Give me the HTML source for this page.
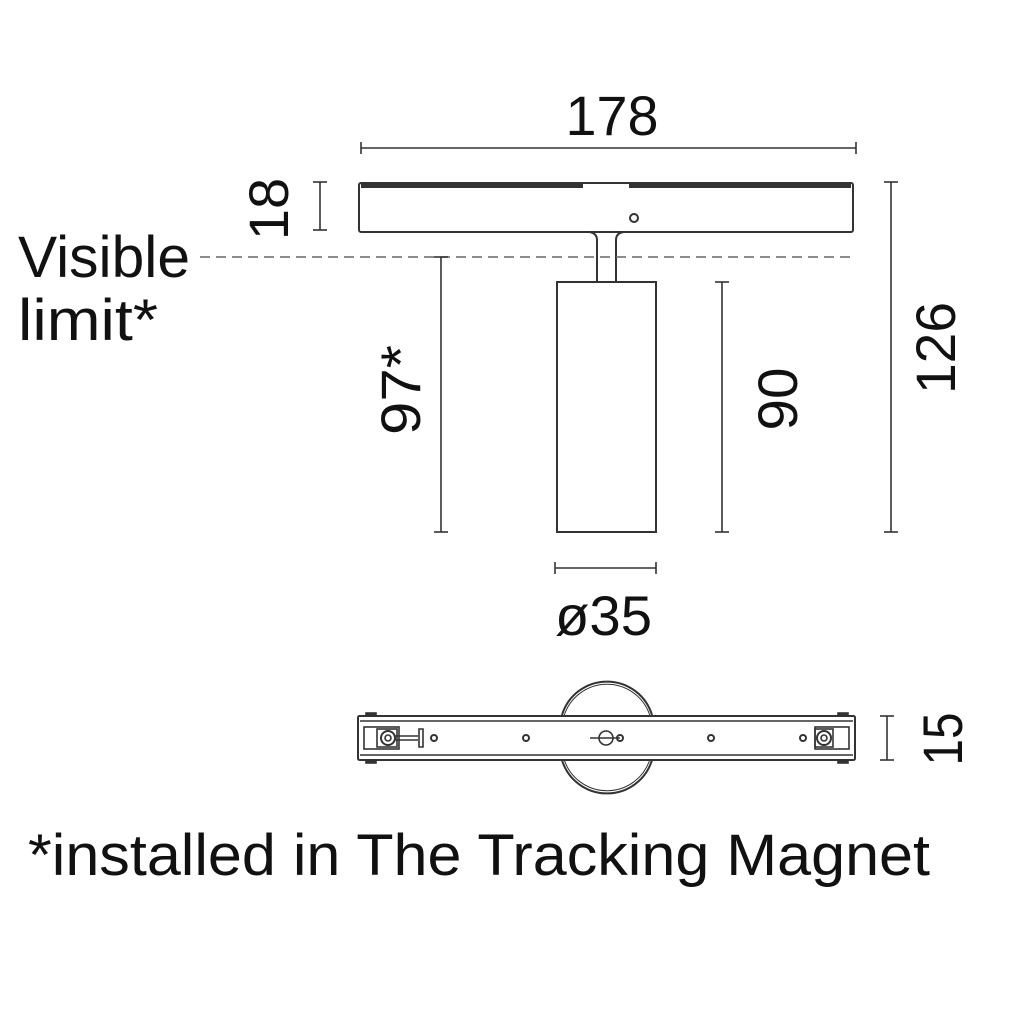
<!DOCTYPE html>
<html><head><style>
html,body{margin:0;padding:0;background:#fff;width:1024px;height:1024px;overflow:hidden}
svg text{font-family:"Liberation Sans",sans-serif;fill:#111}
</style></head><body>
<svg width="1024" height="1024" viewBox="0 0 1024 1024" xmlns="http://www.w3.org/2000/svg">
<g stroke="#333" stroke-width="1.6" fill="none">
<!-- 178 -->
<line x1="361" y1="148" x2="856" y2="148"/><line x1="361" y1="142" x2="361" y2="154"/><line x1="856" y1="142" x2="856" y2="154"/>
<!-- 18 -->
<line x1="320" y1="182" x2="320" y2="230"/><line x1="313" y1="182" x2="327" y2="182"/><line x1="313" y1="230" x2="327" y2="230"/>
<!-- top bar -->
<rect x="359" y="183" width="494" height="49" rx="2" stroke-width="2"/>
<line x1="361" y1="186" x2="583" y2="186" stroke-width="4"/>
<line x1="629" y1="186" x2="851" y2="186" stroke-width="4"/>
<circle cx="634" cy="218" r="4" stroke-width="2"/>
<!-- stem -->
<path d="M589 232 Q597 233 597 240 L597 282 M624 232 Q616 233 616 240 L616 282" stroke-width="2"/>
<!-- dashed -->
<line x1="200" y1="257" x2="856" y2="257" stroke="#666" stroke-dasharray="10,6"/>
<!-- cylinder -->
<rect x="557" y="282" width="99" height="250" stroke-width="2"/>
<!-- 97 -->
<line x1="441" y1="257" x2="441" y2="532"/><line x1="434" y1="257" x2="448" y2="257"/><line x1="434" y1="532" x2="448" y2="532"/>
<!-- 90 -->
<line x1="722" y1="282" x2="722" y2="532"/><line x1="715" y1="282" x2="729" y2="282"/><line x1="715" y1="532" x2="729" y2="532"/>
<!-- 126 -->
<line x1="891" y1="182" x2="891" y2="532"/><line x1="884" y1="182" x2="898" y2="182"/><line x1="884" y1="532" x2="898" y2="532"/>
<!-- 35 -->
<line x1="555" y1="568" x2="656" y2="568"/><line x1="555" y1="562" x2="555" y2="574"/><line x1="656" y1="562" x2="656" y2="574"/>
<!-- 15 -->
<line x1="887" y1="716" x2="887" y2="760"/><line x1="880" y1="716" x2="894" y2="716"/><line x1="880" y1="760" x2="894" y2="760"/>
<!-- bottom view -->
<path d="M562 715 A47 47 0 0 1 652 715 M562 760 A47 47 0 0 0 652 760" stroke-width="2"/>
<path d="M564 716 A45 45 0 0 1 650 716 M564 759 A45 45 0 0 0 650 759" stroke-width="1"/>
<rect x="358" y="716" width="497" height="44" rx="1.5" stroke-width="2"/>
<line x1="360" y1="721" x2="853" y2="721"/><line x1="360" y1="755" x2="853" y2="755"/>
<rect x="366" y="713" width="10" height="3" fill="#333"/><rect x="838" y="713" width="10" height="3" fill="#333"/>
<rect x="366" y="760" width="10" height="3" fill="#333"/><rect x="838" y="760" width="10" height="3" fill="#333"/>
<rect x="364" y="727" width="35" height="22"/><rect x="815" y="727" width="34" height="22"/>
<rect x="377" y="729" width="20" height="18"/><rect x="815" y="729" width="18" height="18"/>
<circle cx="388" cy="738" r="7" stroke-width="2"/><circle cx="824" cy="738" r="7" stroke-width="2"/>
<circle cx="388" cy="738" r="3"/><circle cx="824" cy="738" r="3"/>
<path d="M395 736 L418 736 M395 740 L418 740 M419 729 L423 729 L423 747 L419 747 Z"/>
<circle cx="434" cy="738" r="3" stroke-width="2"/><circle cx="526" cy="738" r="3" stroke-width="2"/>
<circle cx="711" cy="738" r="3" stroke-width="2"/><circle cx="803" cy="738" r="3" stroke-width="2"/>
<circle cx="620" cy="738" r="3" stroke-width="2"/>
<circle cx="606" cy="738" r="7"/><line x1="590" y1="738" x2="620" y2="738"/>
</g>
<text x="612" y="135" font-size="56" text-anchor="middle" textLength="93" lengthAdjust="spacingAndGlyphs">178</text>
<text transform="translate(288,209) rotate(-90)" font-size="56" text-anchor="middle">18</text>
<text x="18" y="277" font-size="58" textLength="172" lengthAdjust="spacingAndGlyphs">Visible</text>
<text x="18" y="340" font-size="58" textLength="140" lengthAdjust="spacingAndGlyphs">limit*</text>
<text transform="translate(420,390) rotate(-90)" font-size="56" text-anchor="middle" textLength="90" lengthAdjust="spacingAndGlyphs">97*</text>
<text transform="translate(797,399) rotate(-90)" font-size="56" text-anchor="middle" textLength="63" lengthAdjust="spacingAndGlyphs">90</text>
<text transform="translate(955,348) rotate(-90)" font-size="56" text-anchor="middle" textLength="92" lengthAdjust="spacingAndGlyphs">126</text>
<text x="555" y="635" font-size="56" textLength="97" lengthAdjust="spacingAndGlyphs">ø35</text>
<text transform="translate(962,739) rotate(-90)" font-size="56" text-anchor="middle" textLength="53" lengthAdjust="spacingAndGlyphs">15</text>
<text x="28" y="875" font-size="58" textLength="902" lengthAdjust="spacingAndGlyphs">*installed in The Tracking Magnet</text>
</svg>
</body></html>
